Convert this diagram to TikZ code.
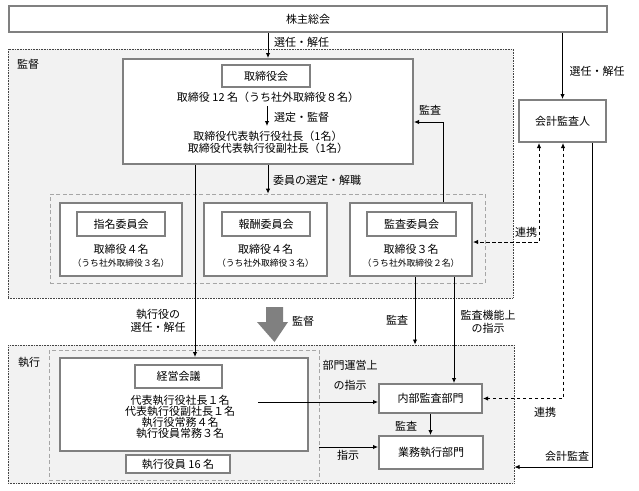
\documentclass[tikz,border=0pt]{standalone}
\usepackage{fontspec}
\setmainfont{Noto Sans CJK JP}
\usetikzlibrary{arrows.meta,calc}
\definecolor{regfill}{HTML}{F2F2F2}
\definecolor{bordergray}{HTML}{808080}
\definecolor{dashgray}{HTML}{A6A6A6}
\definecolor{dotgray}{HTML}{444444}
\begin{document}
\begin{tikzpicture}[x=1pt,y=-1pt,
  font=\fontsize{11}{13}\selectfont,
  region/.style={draw=dotgray, fill=regfill, line width=1pt, dash pattern=on 0.8pt off 0.8pt, inner sep=0pt},
  dbox/.style={draw=dashgray, line width=0.8pt, dash pattern=on 4pt off 2.5pt, inner sep=0pt},
  box/.style={draw=bordergray, line width=2pt, fill=white, inner sep=0pt},
  arr/.style={-{Latex[length=5pt,width=4.5pt]}, line width=0.9pt},
  darr/.style={{Latex[length=5pt,width=4.5pt]}-{Latex[length=5pt,width=4.5pt]}, line width=1pt, dash pattern=on 3.5pt off 2.5pt},
  lbl/.style={inner sep=0pt},
  small/.style={font=\fontsize{8.8}{10}\selectfont, inner sep=0pt}
]
\useasboundingbox (0,0) rectangle (639,490);
\fill[white] (0,0) rectangle (639,490);

% regions
\node[region, minimum width=505pt, minimum height=249pt] (kan) at (260.5,173.5) {};
\node[lbl] (kanL) at (28,64) {監督};
\node[region, minimum width=506pt, minimum height=138pt] (exec) at (261,414) {};
\node[lbl] (execL) at (29,362) {執行};

% shareholders
\node[box, minimum width=598pt, minimum height=26pt] (kabu) at (308,19) {株主総会};

% board
\node[box, minimum width=290pt, minimum height=105pt] (board) at (268,111.5) {};
\node[box, minimum width=88pt, minimum height=22pt] (boardT) at (266,76) {取締役会};
\node[lbl] (bl1) at (268,97) {取締役 12 名（うち社外取締役８名）};
\coordinate (b1) at (267,106);
\coordinate (b2) at (267,126);
\draw[arr] (b1) -- (b2);
\node[lbl, anchor=west] (bsel) at (274,117) {選定・監督};
\node[lbl, align=center, font=\fontsize{11}{11.5}\selectfont] (bl2) at (268,142.5) {取締役代表執行役社長（1名）\\取締役代表執行役副社長（1名）};

% committees
\node[dbox, minimum width=435pt, minimum height=89pt] (comm) at (267.5,238.5) {};
\node[box, minimum width=122pt, minimum height=73pt] (c1) at (121,239.5) {};
\node[box, minimum width=88pt, minimum height=24pt] (c1T) at (121,224) {指名委員会};
\node[lbl] (c1a) at (121,249) {取締役４名};
\node[small] (c1b) at (121,263) {（うち社外取締役３名）};
\node[box, minimum width=123pt, minimum height=73pt] (c2) at (265.5,239.5) {};
\node[box, minimum width=88pt, minimum height=24pt] (c2T) at (266,224) {報酬委員会};
\node[lbl] (c2a) at (265.5,249) {取締役４名};
\node[small] (c2b) at (265.5,263) {（うち社外取締役３名）};
\node[box, minimum width=122pt, minimum height=73pt] (c3) at (411,239.5) {};
\node[box, minimum width=89pt, minimum height=24pt] (c3T) at (411.5,224) {監査委員会};
\node[lbl] (c3a) at (411,249) {取締役３名};
\node[small] (c3b) at (411,263) {（うち社外取締役２名）};

% accounting auditor
\node[box, minimum width=87pt, minimum height=42pt] (audit) at (562.5,121) {会計監査人};

% execution side
\node[dbox, minimum width=270pt, minimum height=130pt] (execd) at (184,415) {};
\node[box, minimum width=248pt, minimum height=93pt] (mgmt) at (184,404.5) {};
\node[box, minimum width=87pt, minimum height=23pt] (mgmtT) at (178.5,376.5) {経営会議};
\node[lbl, align=center, font=\fontsize{11}{11}\selectfont] (mgmtx) at (180,416.5) {代表執行役社長１名\\代表執行役副社長１名\\執行役常務４名\\執行役員常務３名};
\node[box, minimum width=104pt, minimum height=18pt] (off16) at (178,464) {執行役員 16 名};
\node[box, minimum width=103pt, minimum height=29pt] (internal) at (430.5,398.5) {内部監査部門};
\node[box, minimum width=104pt, minimum height=33pt] (ops) at (431,452.5) {業務執行部門};

% helper coordinates
\coordinate (x195) at (195,0);
\coordinate (x415) at (415,0);
\coordinate (x443) at (443,0);
\coordinate (x454) at (454,0);
\coordinate (x539) at (539,0);
\coordinate (x563) at (563,0);
\coordinate (x592) at (592,0);
\coordinate (y122) at (0,122);
\coordinate (y242) at (0,242);
\coordinate (y447) at (0,447);
\coordinate (y467) at (0,467);
\coordinate (mg1) at (258,402);

% connectors
\draw[arr] (kabu.south -| board.north) -- (board.north);
\node[lbl, anchor=west] (l1) at (274,42) {選任・解任};
\draw[arr] (kabu.south -| audit.north) -- (audit.north);
\node[lbl] (l2) at (597,71) {選任・解任};
\draw[arr] (c3.north -| x443) |- (board.east |- y122);
\node[lbl] (l3) at (430,110) {監査};
\draw[arr] (board.south) -- (board.south |- comm.north);
\node[lbl, anchor=west] (l4) at (273,180) {委員の選定・解職};
\draw[arr] (board.south -| x195) -- (mgmt.north -| x195);
\node[lbl, align=center, font=\fontsize{11}{12.5}\selectfont] (l5) at (158,321) {執行役の\\選任・解任};
\fill[bordergray] (266,307) -- (283,307) -- (283,322) -- (288,322) -- (274.5,342) -- (257,322) -- (266,322) -- cycle;
\node[lbl] (l6) at (303,321) {監督};
\draw[arr] (c3.south -| x415) -- (exec.north -| x415);
\node[lbl] (l7) at (397,320) {監査};
\draw[arr] (c3.south -| x454) -- (internal.north -| x454);
\node[lbl, align=center, font=\fontsize{11}{13}\selectfont] (l8) at (488,321.5) {監査機能上\\の指示};
\draw[darr] (audit.south -| x539) |- (c3.east |- y242);
\node[lbl] (l9) at (526,232) {連携};
\draw[darr] (audit.south -| x563) |- (internal.east);
\node[lbl] (l10) at (545,412) {連携};
\draw[arr] (audit.south -| x592) |- (exec.east |- y467);
\node[lbl] (l11) at (567,456) {会計監査};
\draw[arr] (mg1) -- (internal.west |- mg1);
\node[lbl] (l12) at (350,365) {部門運営上};
\node[lbl] (l13) at (350,385) {の指示};
\draw[arr] (internal.south) -- (internal.south |- ops.north);
\node[lbl] (l14) at (406,426) {監査};
\draw[arr] (execd.east |- y447) -- (ops.west |- y447);
\node[lbl] (l15) at (348,455) {指示};
\end{tikzpicture}
\end{document}
